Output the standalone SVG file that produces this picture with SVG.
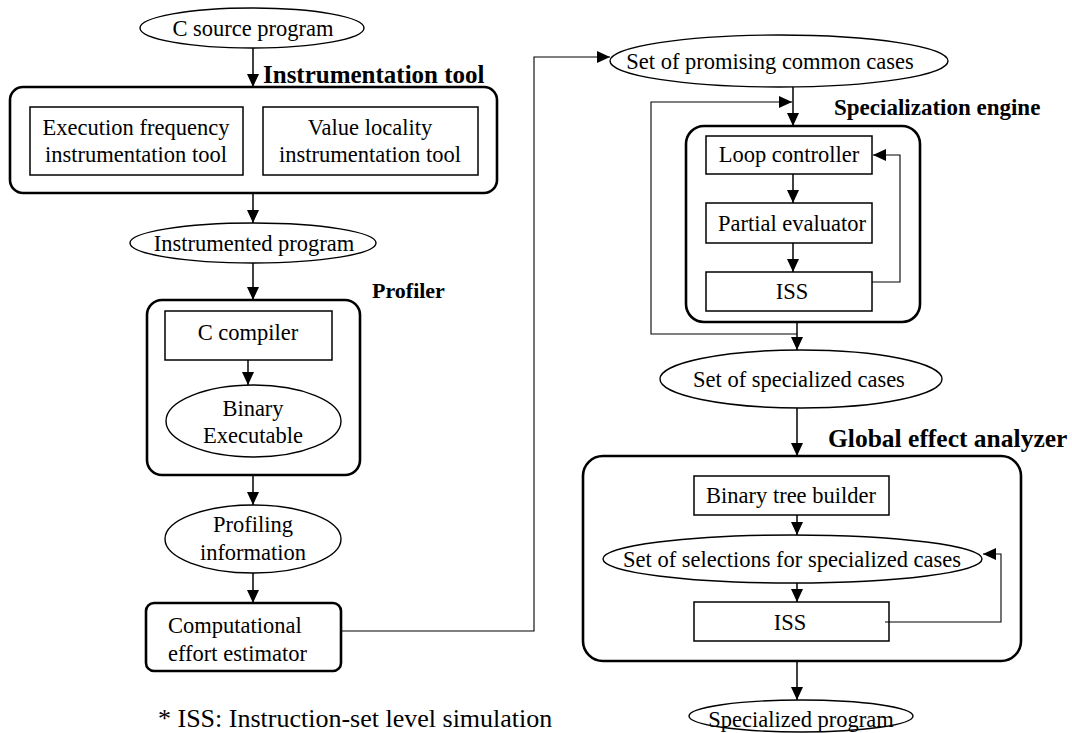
<svg xmlns="http://www.w3.org/2000/svg" width="1072" height="733" viewBox="0 0 1072 733" font-family="'Liberation Serif', 'Times New Roman', 'DejaVu Serif', serif">
<defs>
<marker id="ah" markerUnits="userSpaceOnUse" markerWidth="14" markerHeight="14" refX="13" refY="6" orient="auto">
<path d="M0,0 L13,6 L0,12 z" fill="#000"/>
</marker>
</defs>
<style>
text{font-family:'Liberation Serif','Times New Roman','DejaVu Serif',serif;fill:#000}
.t{font-size:22.5px;text-anchor:middle}
.b{font-weight:bold}
.outer{fill:#fff;stroke:#000;stroke-width:2.6}
.box{fill:#fff;stroke:#000;stroke-width:1.5}
.ell{fill:#fff;stroke:#000;stroke-width:1.4}
.arr{fill:none;stroke:#000;stroke-width:1.5;marker-end:url(#ah)}
.thin{fill:none;stroke:#000;stroke-width:1.1;marker-end:url(#ah)}
</style>
<rect width="1072" height="733" fill="#fff"/>

<g id="c-source">
<ellipse class="ell" cx="252" cy="28" rx="112" ry="20"/>
<text class="t" x="253" y="36">C source program</text>
</g>

<g id="instrumentation-tool">
<rect class="outer" x="10" y="87" width="487" height="106" rx="13"/>
<text class="b" x="263" y="83" font-size="25">Instrumentation tool</text>
</g>
<g id="exec-freq">
<rect class="box" x="30" y="107" width="213" height="68"/>
<text class="t" x="136" y="135">Execution frequency</text>
<text class="t" x="136" y="162">instrumentation tool</text>
</g>
<g id="value-locality">
<rect class="box" x="263" y="107" width="215" height="68"/>
<text class="t" x="370" y="135">Value locality</text>
<text class="t" x="370" y="162">instrumentation tool</text>
</g>

<g id="instrumented-program">
<ellipse class="ell" cx="253" cy="243" rx="123" ry="20"/>
<text class="t" x="254" y="251">Instrumented program</text>
</g>

<g id="profiler">
<rect class="outer" x="147" y="300" width="213" height="175" rx="15"/>
<text class="b" x="372" y="298" font-size="22">Profiler</text>
</g>
<g id="c-compiler">
<rect class="box" x="165" y="311" width="167" height="49"/>
<text class="t" x="248" y="340">C compiler</text>
</g>
<g id="binary-executable">
<ellipse class="ell" cx="253.5" cy="421" rx="87.5" ry="36"/>
<text class="t" x="253" y="416">Binary</text>
<text class="t" x="253" y="443">Executable</text>
</g>

<g id="profiling-information">
<ellipse class="ell" cx="253" cy="539" rx="88" ry="34"/>
<text class="t" x="253" y="532">Profiling</text>
<text class="t" x="253" y="560">information</text>
</g>

<g id="computational-effort-estimator">
<rect class="outer" x="146" y="603" width="195" height="68" rx="8"/>
<text x="168" y="633" font-size="22.5">Computational</text>
<text x="168" y="661" font-size="22.5">effort estimator</text>
</g>

<g id="promising-cases">
<ellipse class="ell" cx="779" cy="61" rx="169" ry="26"/>
<text class="t" x="770" y="69">Set of promising common cases</text>
</g>

<g id="specialization-engine">
<rect class="outer" x="686" y="126" width="234" height="196" rx="18"/>
<text class="b" x="834" y="115" font-size="23">Specialization engine</text>
</g>
<g id="loop-controller">
<rect class="box" x="706" y="136" width="166" height="38"/>
<text class="t" x="789" y="162">Loop controller</text>
</g>
<g id="partial-evaluator">
<rect class="box" x="706" y="203" width="166" height="40"/>
<text class="t" x="792" y="231">Partial evaluator</text>
</g>
<g id="iss-1">
<rect class="box" x="706" y="272" width="166" height="39"/>
<text class="t" x="792" y="299">ISS</text>
</g>

<g id="specialized-cases">
<ellipse class="ell" cx="801" cy="379" rx="141" ry="29"/>
<text class="t" x="799" y="387">Set of specialized cases</text>
</g>

<g id="global-effect-analyzer">
<rect class="outer" x="583" y="456" width="438" height="205" rx="20"/>
<text class="b" x="828" y="447" font-size="25.5">Global effect analyzer</text>
</g>
<g id="binary-tree-builder">
<rect class="box" x="694" y="476" width="195" height="39"/>
<text class="t" x="791" y="503">Binary tree builder</text>
</g>
<g id="selections">
<ellipse class="ell" cx="792.5" cy="559" rx="189.5" ry="24"/>
<text class="t" x="792" y="567">Set of selections for specialized cases</text>
</g>
<g id="iss-2">
<rect class="box" x="694" y="602" width="195" height="39"/>
<text class="t" x="790" y="630">ISS</text>
</g>

<g id="specialized-program">
<ellipse class="ell" cx="801" cy="716" rx="112" ry="16"/>
<text class="t" x="801" y="727">Specialized program</text>
</g>

<text x="158" y="727" font-size="26">* ISS: Instruction-set level simulation</text>

<g id="connectors">
<line class="arr" x1="253" y1="48" x2="253" y2="87"/>
<line class="arr" x1="253" y1="193" x2="253" y2="223"/>
<line class="arr" x1="253" y1="263" x2="253" y2="300"/>
<line class="arr" x1="248" y1="360" x2="248" y2="385"/>
<line class="arr" x1="253" y1="475" x2="253" y2="505"/>
<line class="arr" x1="253" y1="573" x2="253" y2="603"/>
<polyline class="thin" points="341,631 534,631 534,57 610,57"/>
<line class="arr" x1="793" y1="87" x2="793" y2="126"/>
<polyline class="thin" points="797,334 651,334 651,102 792,102"/>
<line class="arr" x1="793" y1="174" x2="793" y2="203"/>
<line class="arr" x1="793" y1="243" x2="793" y2="272"/>
<polyline class="thin" points="872,282 900,282 900,155 873,155"/>
<line class="arr" x1="797" y1="322" x2="797" y2="350"/>
<line class="arr" x1="797" y1="408" x2="797" y2="456"/>
<line class="arr" x1="797" y1="515" x2="797" y2="535"/>
<line class="arr" x1="797" y1="583" x2="797" y2="602"/>
<polyline class="thin" points="885,622 1001,622 1001,554 983,554"/>
<line class="arr" x1="797" y1="661" x2="797" y2="700"/>
</g>
</svg>
